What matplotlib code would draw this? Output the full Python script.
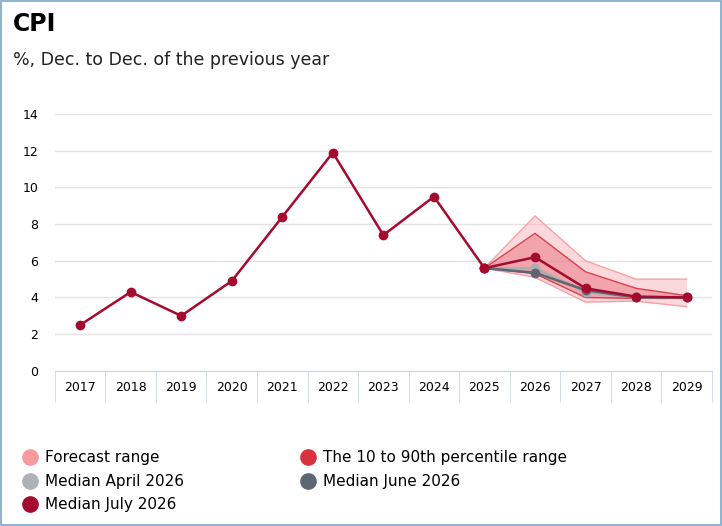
import matplotlib.pyplot as plt
from matplotlib.patches import Rectangle
from matplotlib.lines import Line2D

years = [2017, 2018, 2019, 2020, 2021, 2022, 2023, 2024, 2025, 2026, 2027, 2028, 2029]
history = [2.5, 4.3, 3.0, 4.9, 8.4, 11.9, 7.4, 9.5, 5.6]
fc_years = [2025, 2026, 2027, 2028, 2029]
range_hi = [5.6, 8.45, 6.0, 5.0, 5.0]
range_lo = [5.6, 5.1, 3.75, 3.8, 3.5]
p_hi = [5.6, 7.5, 5.4, 4.5, 4.1]
p_lo = [5.6, 5.3, 4.0, 3.95, 3.95]
med_april = [5.6, 5.6, 4.3, 4.0, 4.0]
med_june = [5.6, 5.35, 4.4, 4.0, 4.0]
med_july = [5.6, 6.2, 4.5, 4.05, 4.0]

red = '#a50a2f'
fig = plt.figure(figsize=(7.22, 5.26), dpi=100)
fig.patches.append(Rectangle((0.002, 0.002), 0.996, 0.996, transform=fig.transFigure,
                             fill=False, edgecolor='#7aa7c7', linewidth=1.2))
fig.text(0.018, 0.955, 'CPI', fontsize=17, fontweight='bold', va='center')
fig.text(0.018, 0.885, '%, Dec. to Dec. of the previous year', fontsize=12.5, va='center', color='#222')

ax = fig.add_axes([0.076, 0.295, 0.91, 0.488])
idx = {y: i for i, y in enumerate(years)}
fx = [idx[y] for y in fc_years]
ax.fill_between(fx, range_lo, range_hi, color='#f9b3b8', alpha=0.5, lw=0)
ax.plot(fx, range_hi, color='#f6a0a6', lw=1)
ax.plot(fx, range_lo, color='#f6a0a6', lw=1)
ax.fill_between(fx, p_lo, p_hi, color='#e56672', alpha=0.45, lw=0)
ax.plot(fx, p_hi, color='#d9404d', lw=1)
ax.plot(fx, p_lo, color='#d9404d', lw=1)
ax.plot(fx, med_april, color='#a9adb4', lw=1.8, marker='o', ms=6)
ax.plot(fx, med_june, color='#5e6673', lw=1.8, marker='o', ms=6)
ax.plot(range(len(history)), history, color=red, lw=1.8, marker='o', ms=6)
ax.plot(fx, med_july, color=red, lw=1.8, marker='o', ms=6, zorder=5)

ax.set_ylim(0, 14)
ax.set_xlim(-0.5, len(years) - 0.5)
ax.set_yticks(range(0, 15, 2))
ax.set_xticks(range(len(years)))
ax.set_xticklabels(years)
ax.set_xticks([i - 0.5 for i in range(len(years) + 1)], minor=True)
ax.tick_params(axis='x', which='major', length=0, pad=7, labelsize=9)
ax.tick_params(axis='x', which='minor', length=22, color='#ccd6e0')
ax.tick_params(axis='y', length=0, labelsize=9, pad=12)
ax.grid(axis='y', color='#e3e3e3', lw=1)
ax.set_axisbelow(True)
for s in ['top', 'right', 'left']:
    ax.spines[s].set_visible(False)
ax.spines['bottom'].set_color('#ccd6e0')

def dot(c):
    return Line2D([], [], marker='o', ls='', color=c, ms=11)

# column-major order so rows read: range / percentile, April / June, July
handles = [dot('#f79a9f'), dot('#aeb1b7'), dot(red), dot('#d8323f'), dot('#5e6673')]
labels = ['Forecast range', 'Median April 2026', 'Median July 2026',
          'The 10 to 90th percentile range', 'Median June 2026']
fig.legend(handles, labels, loc='lower left', bbox_to_anchor=(0.01, 0.0), ncol=2,
           frameon=False, fontsize=11, handletextpad=0.4, columnspacing=7.5,
           labelspacing=0.55, handlelength=1.2)
fig.savefig('out.png')
